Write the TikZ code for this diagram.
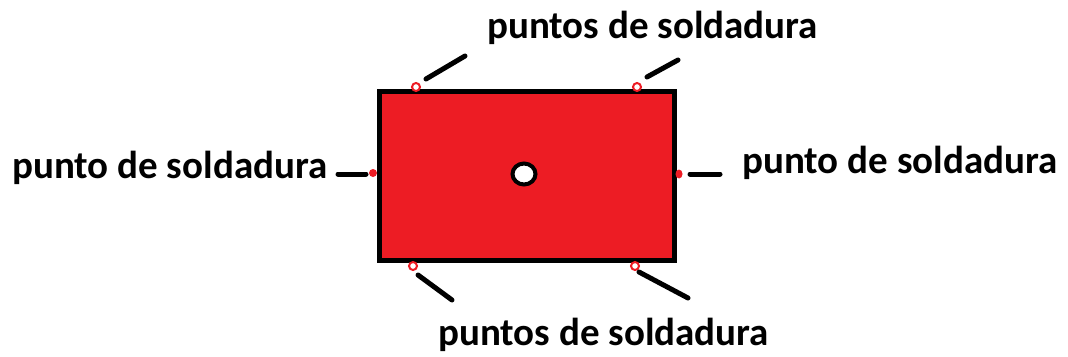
\documentclass[tikz,border=0pt]{standalone}
\usepackage{fontspec}
\setmainfont{Carlito}
\usetikzlibrary{shapes.geometric}
\definecolor{plate}{RGB}{237,28,36}
\definecolor{weld}{RGB}{237,28,36}
\begin{document}
\begin{tikzpicture}[x=1pt,y=-1pt,
  lbl/.style={font=\fontsize{39}{42}\selectfont\bfseries, inner sep=0pt, anchor=base west},
  lead/.style={line width=5pt, line cap=round, black},
  ringpt/.style={circle, draw=weld, fill=white, line width=2pt, minimum size=8pt, inner sep=0pt},
  dotpt/.style={ellipse, fill=weld, minimum width=7pt, minimum height=9pt, inner sep=0pt}]
\useasboundingbox (0,0) rectangle (1068,356);
\fill[white] (0,0) rectangle (1068,356);
% plate
\draw[line width=5pt, fill=plate] (379.5,91.5) coordinate (pa) rectangle (674.5,260.5) coordinate (pb);
\node[ellipse, draw=black, fill=white, line width=4pt, minimum width=23pt, minimum height=21pt, inner sep=0pt] (hole) at (524,174) {};
% weld points
\node[ringpt] (w1) at (416,87) {};
\node[ringpt] (w2) at (637,87) {};
\node[ringpt] (w3) at (413,266) {};
\node[ringpt] (w4) at (635,266) {};
\node[dotpt, minimum width=8pt, minimum height=8pt] (w5) at (373,173) {};
\node[dotpt] (w6) at (679,174) {};
% leader lines
\coordinate (l1a) at (426,79); \coordinate (l1b) at (465,56);
\coordinate (l2a) at (647,77); \coordinate (l2b) at (678,60);
\coordinate (l3a) at (418,275); \coordinate (l3b) at (452,300);
\coordinate (l4a) at (639,272); \coordinate (l4b) at (688,298);
\coordinate (l5a) at (338,174); \coordinate (l5b) at (366,174);
\coordinate (l6a) at (690,174); \coordinate (l6b) at (720,174);
\draw[lead] (l1a) -- (l1b);
\draw[lead] (l2a) -- (l2b);
\draw[lead] (l3a) -- (l3b);
\draw[lead] (l4a) -- (l4b);
\draw[lead] (l5a) -- (l5b);
\draw[lead] (l6a) -- (l6b);
% labels
\node[lbl] (t1) at (487,38) {puntos de soldadura};
\node[lbl] (t2) at (438,345) {puntos de soldadura};
\node[lbl] (t3) at (12,178) {punto de soldadura};
\node[lbl] (t4) at (742,173) {punto de soldadura};
\end{tikzpicture}
\end{document}
